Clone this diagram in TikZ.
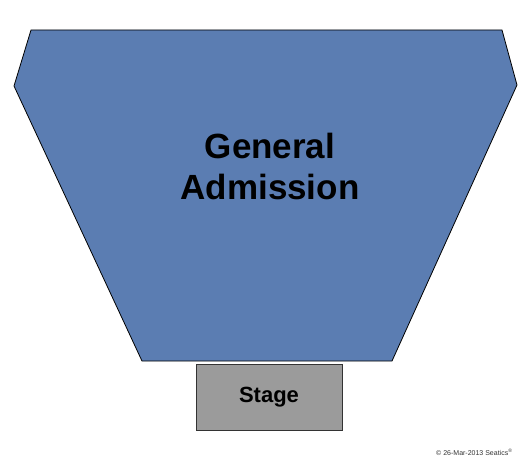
\documentclass[tikz,border=0pt]{standalone}
\usepackage{fontspec}
\setmainfont{Liberation Sans}
\usepackage{tikz}
\usetikzlibrary{positioning}
\definecolor{gablue}{HTML}{5B7DB2}
\definecolor{stagegray}{HTML}{9B9B9B}
\tikzstyle{floor} = [draw=black, thick, fill=gablue, line join=miter]
\tikzstyle{stagebox} = [draw=black!80, thick, rectangle, fill=stagegray, minimum width=146pt, minimum height=66pt, inner sep=0pt]
\tikzstyle{biglabel} = [font=\bfseries\fontsize{35}{41}\selectfont, align=center, text=black]

\begin{document}
\begin{tikzpicture}[x=1pt, y=-1pt]
      \useasboundingbox (0,0) rectangle (525,460);
      % general admission floor
      \draw[floor] (31,30) -- (502,30) -- (517,85) -- (392,361) -- (142,361) -- (14,86) -- cycle;
      \node[biglabel] (ga) at (270,166) {General\\Admission};
      % stage
      \node[stagebox] (stage) at (269,397) {\bfseries\fontsize{22}{24}\selectfont Stage};
      \node[anchor=east, font=\fontsize{7}{8}\selectfont, text=black!80] (stamp) at (516,452) {© 26-Mar-2013 Seatics\textsuperscript{®}};
    \end{tikzpicture}
\end{document}
